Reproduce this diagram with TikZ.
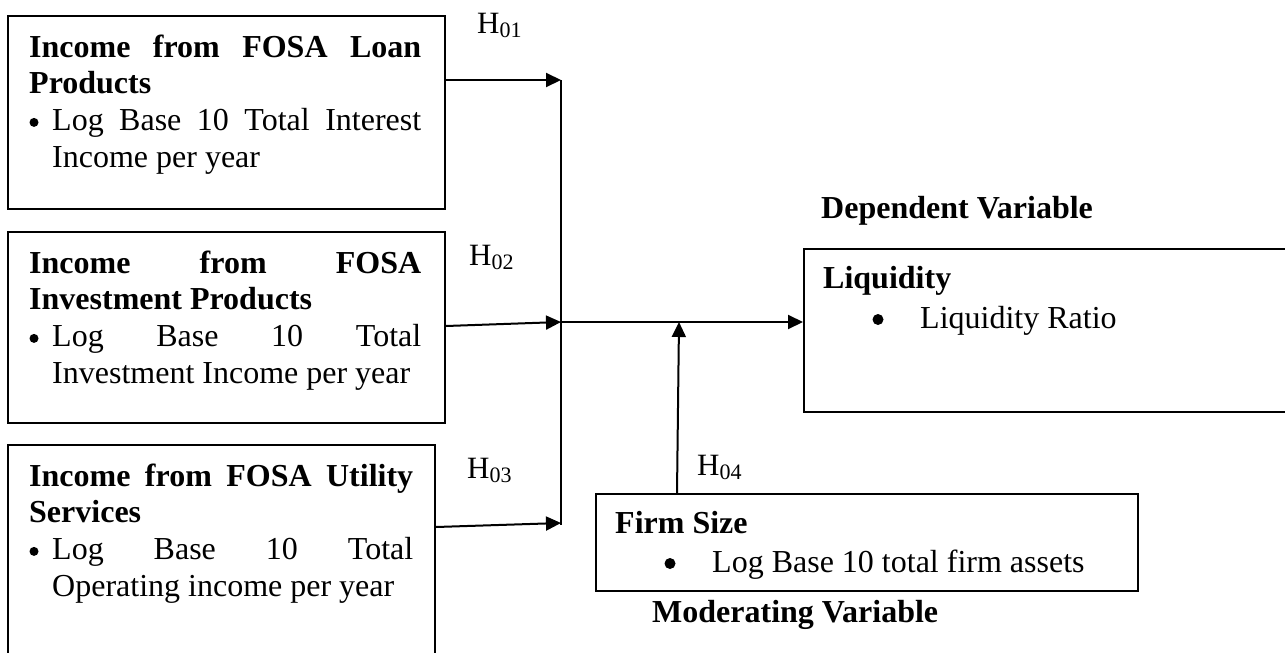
\documentclass[tikz,border=0pt]{standalone}
\usepackage{fontspec}
\setmainfont{Liberation Serif}
\usetikzlibrary{arrows.meta}
\tikzset{
  boxnode/.style={draw, line width=2pt, rectangle, anchor=north west, inner sep=0pt},
  txt/.style={anchor=base west, inner sep=0pt, font=\fontsize{32}{36}\selectfont},
  btxt/.style={anchor=base west, inner sep=0pt, font=\fontsize{32}{36}\selectfont\bfseries},
  hlab/.style={anchor=base west, inner sep=0pt, font=\fontsize{31}{34}\selectfont},
  bul/.style={circle, fill, draw=none, inner sep=0pt, minimum size=9pt},
  bigbul/.style={circle, fill, draw=none, inner sep=0pt, minimum size=11pt},
  conn/.style={line width=2pt},
  arr/.style={line width=2pt, -{Triangle[length=15pt,width=14pt]}}
}
\newcommand{\hsub}[1]{H\raisebox{-4pt}{\fontsize{22}{22}\selectfont #1}}
\begin{document}
\begin{tikzpicture}[x=1pt,y=-1pt]
\useasboundingbox (0,0) rectangle (1285,653);

% boxes
\node[boxnode, minimum width=437pt, minimum height=193pt] (b1) at (7,15) {};
\node[boxnode, minimum width=437pt, minimum height=191pt] (b2) at (7,231) {};
\node[boxnode, minimum width=427pt, minimum height=240pt] (b3) at (7,444) {};
\node[boxnode, minimum width=500pt, minimum height=163pt] (liq) at (803,248) {};
\node[boxnode, minimum width=542pt, minimum height=97pt] (firm) at (595,493) {};

% box 1 text
\node[btxt] (b1l1) at (29,57) {\hbox to 392pt{Income\hfill from\hfill FOSA\hfill Loan}};
\node[btxt] (b1l2) at (29,93.7) {Products};
\node[bul] (b1bu) at (34,122.4) {};
\node[txt] (b1l3) at (52,130.4) {\hbox to 369pt{Log\hfill Base\hfill 10\hfill Total\hfill Interest}};
\node[txt] (b1l4) at (52,167) {Income per year};

% box 2 text
\node[btxt] (b2l1) at (29,273) {\hbox to 392pt{Income\hfill from\hfill FOSA}};
\node[btxt] (b2l2) at (29,309.7) {Investment Products};
\node[bul] (b2bu) at (34,338.4) {};
\node[txt] (b2l3) at (52,346.4) {\hbox to 369pt{Log\hfill Base\hfill 10\hfill Total}};
\node[txt] (b2l4) at (52,383) {Investment Income per year};

% box 3 text
\node[btxt] (b3l1) at (29,486) {\hbox to 384pt{Income\hfill from\hfill FOSA\hfill Utility}};
\node[btxt] (b3l2) at (29,522.7) {Services};
\node[bul] (b3bu) at (34,551.4) {};
\node[txt] (b3l3) at (52,559.4) {\hbox to 361pt{Log\hfill Base\hfill 10\hfill Total}};
\node[txt] (b3l4) at (52,596) {Operating income per year};

% liquidity box text
\node[btxt] (liqt) at (823,288) {Liquidity};
\node[bigbul] (liqbu) at (878,319.5) {};
\node[txt] (liqr) at (920,328) {Liquidity Ratio};

% firm box text
\node[btxt] (firmt) at (615,533) {Firm Size};
\node[bigbul] (firmbu) at (670,563.5) {};
\node[txt] (firml) at (712,572) {Log Base 10 total firm assets};

% captions
\node[btxt] (dep) at (821,218) {Dependent Variable};
\node[btxt] (mod) at (652,622) {Moderating Variable};

% hypothesis labels
\node[hlab] (h1) at (477,33) {\hsub{01}};
\node[hlab] (h2) at (469,265) {\hsub{02}};
\node[hlab] (h3) at (467,478) {\hsub{03}};
\node[hlab] (h4) at (697,475) {\hsub{04}};

% junction coordinates
\coordinate (vtop) at (561,80);
\coordinate (vbot) at (561,525);
\coordinate (j2) at (561,322);
\coordinate (jm) at (679,322);

% connectors
\draw[conn] (vtop) -- (vbot);
\draw[arr] (b1.east |- vtop) -- (vtop);
\draw[arr] ([yshift=-95pt]b2.north east) -- (j2);
\draw[arr] ([yshift=-83pt]b3.north east) -- ([yshift=2pt]vbot);
\draw[arr] (j2) -- (liq.west |- j2);
\draw[arr] ([xshift=82pt]firm.north west) -- (jm);
\end{tikzpicture}
\end{document}
